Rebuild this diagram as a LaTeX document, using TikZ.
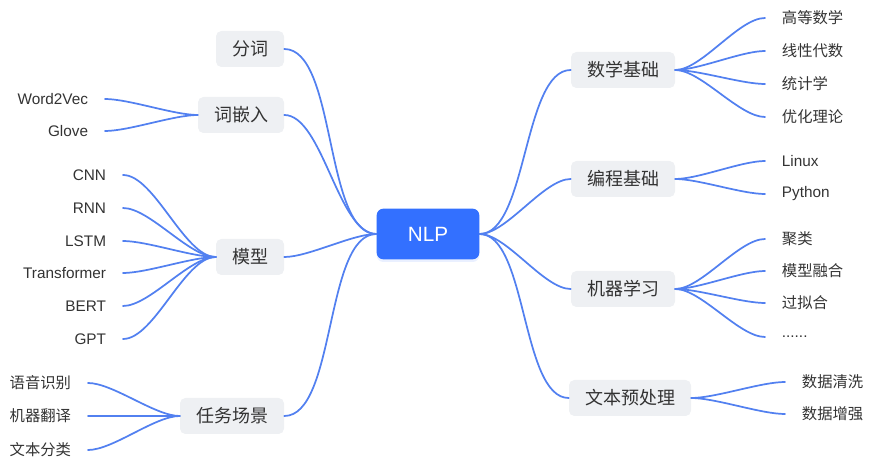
\documentclass[tikz,border=0pt]{standalone}
\usepackage{fontspec}
\setmainfont{Noto Sans CJK SC}
\newfontfamily\latinfont{Liberation Sans}
\usetikzlibrary{shadows}
\definecolor{linkblue}{RGB}{82,128,240}
\definecolor{rootblue}{RGB}{51,112,255}
\definecolor{boxgray}{RGB}{238,240,243}
\definecolor{textgray}{RGB}{51,51,51}

\begin{document}
\begin{tikzpicture}[x=0.75pt,y=-0.75pt,
  root/.style={rounded corners=5pt,fill=rootblue,text=white,minimum width=77pt,minimum height=38pt,
    font=\latinfont\fontsize{15.5}{18}\selectfont,
    drop shadow={fill=rootblue!30,opacity=0.35,shadow xshift=0pt,shadow yshift=-2pt}},
  topic/.style={rounded corners=4pt,fill=boxgray,text=textgray,minimum height=27pt,inner xsep=12pt,
    font=\fontsize{13.5}{16}\selectfont},
  leaf/.style={text=textgray,inner xsep=12.5pt,font=\fontsize{11.5}{14}\selectfont},
  en/.style={font=\latinfont\fontsize{11.5}{14}\selectfont},
  branch/.style={draw=linkblue,line width=1.3pt,line cap=round,looseness=0.65}
]
\useasboundingbox (0,0) rectangle (871,466);

% centre
\node[root] (nlp) at (428,234) {NLP};

% left topics
\node[topic] (fenci) at (250,49) {分词};
\node[topic] (qianru) at (241,115) {词嵌入};
\node[topic] (moxing) at (250,257) {模型};
\node[topic] (renwu) at (232,416) {任务场景};

% right topics
\node[topic] (shuxue) at (623,70) {数学基础};
\node[topic] (biancheng) at (623,179) {编程基础};
\node[topic] (jiqi) at (623,289) {机器学习};
\node[topic] (yuchuli) at (630,398) {文本预处理};

% left leaves
\node[leaf,en,anchor=east] (w2v) at (105,99) {Word2Vec};
\node[leaf,en,anchor=east] (glove) at (105,131) {Glove};

\node[leaf,en,anchor=east] (cnn) at (123,175) {CNN};
\node[leaf,en,anchor=east] (rnn) at (123,208) {RNN};
\node[leaf,en,anchor=east] (lstm) at (123,241) {LSTM};
\node[leaf,en,anchor=east] (trans) at (123,273) {Transformer};
\node[leaf,en,anchor=east] (bert) at (123,306) {BERT};
\node[leaf,en,anchor=east] (gpt) at (123,339) {GPT};

\node[leaf,anchor=east] (yuyin) at (88,383) {语音识别};
\node[leaf,anchor=east] (fanyi) at (88,416) {机器翻译};
\node[leaf,anchor=east] (fenlei) at (88,450) {文本分类};

% right leaves
\node[leaf,anchor=west] (gaoshu) at (765,18) {高等数学};
\node[leaf,anchor=west] (xiandai) at (765,51) {线性代数};
\node[leaf,anchor=west] (tongji) at (765,84) {统计学};
\node[leaf,anchor=west] (youhua) at (765,117) {优化理论};

\node[leaf,en,anchor=west] (linux) at (765,161) {Linux};
\node[leaf,en,anchor=west] (python) at (765,194) {Python};

\node[leaf,anchor=west] (julei) at (765,239) {聚类};
\node[leaf,anchor=west] (ronghe) at (765,271) {模型融合};
\node[leaf,anchor=west] (guonihe) at (765,303) {过拟合};
\node[leaf,en,anchor=west] (dots) at (765,337) {......};

\node[leaf,anchor=west] (qingxi) at (785,382) {数据清洗};
\node[leaf,anchor=west] (zengqiang) at (785,414) {数据增强};

% connectors from the centre
\draw[branch] (nlp.west) to[out=180,in=0] (fenci.east);
\draw[branch] (nlp.west) to[out=180,in=0] (qianru.east);
\draw[branch] (nlp.west) to[out=180,in=0] (moxing.east);
\draw[branch] (nlp.west) to[out=180,in=0] (renwu.east);
\draw[branch] (nlp.east) to[out=0,in=180] (shuxue.west);
\draw[branch] (nlp.east) to[out=0,in=180] (biancheng.west);
\draw[branch] (nlp.east) to[out=0,in=180] (jiqi.west);
\draw[branch] (nlp.east) to[out=0,in=180] (yuchuli.west);

% connectors to the leaves
\draw[branch] (qianru.west) to[out=180,in=0] (w2v.east);
\draw[branch] (qianru.west) to[out=180,in=0] (glove.east);

\draw[branch] (moxing.west) to[out=180,in=0] (cnn.east);
\draw[branch] (moxing.west) to[out=180,in=0] (rnn.east);
\draw[branch] (moxing.west) to[out=180,in=0] (lstm.east);
\draw[branch] (moxing.west) to[out=180,in=0] (trans.east);
\draw[branch] (moxing.west) to[out=180,in=0] (bert.east);
\draw[branch] (moxing.west) to[out=180,in=0] (gpt.east);

\draw[branch] (renwu.west) to[out=180,in=0] (yuyin.east);
\draw[branch] (renwu.west) to[out=180,in=0] (fanyi.east);
\draw[branch] (renwu.west) to[out=180,in=0] (fenlei.east);

\draw[branch] (shuxue.east) to[out=0,in=180] (gaoshu.west);
\draw[branch] (shuxue.east) to[out=0,in=180] (xiandai.west);
\draw[branch] (shuxue.east) to[out=0,in=180] (tongji.west);
\draw[branch] (shuxue.east) to[out=0,in=180] (youhua.west);

\draw[branch] (biancheng.east) to[out=0,in=180] (linux.west);
\draw[branch] (biancheng.east) to[out=0,in=180] (python.west);

\draw[branch] (jiqi.east) to[out=0,in=180] (julei.west);
\draw[branch] (jiqi.east) to[out=0,in=180] (ronghe.west);
\draw[branch] (jiqi.east) to[out=0,in=180] (guonihe.west);
\draw[branch] (jiqi.east) to[out=0,in=180] (dots.west);

\draw[branch] (yuchuli.east) to[out=0,in=180] (qingxi.west);
\draw[branch] (yuchuli.east) to[out=0,in=180] (zengqiang.west);

\end{tikzpicture}
\end{document}
